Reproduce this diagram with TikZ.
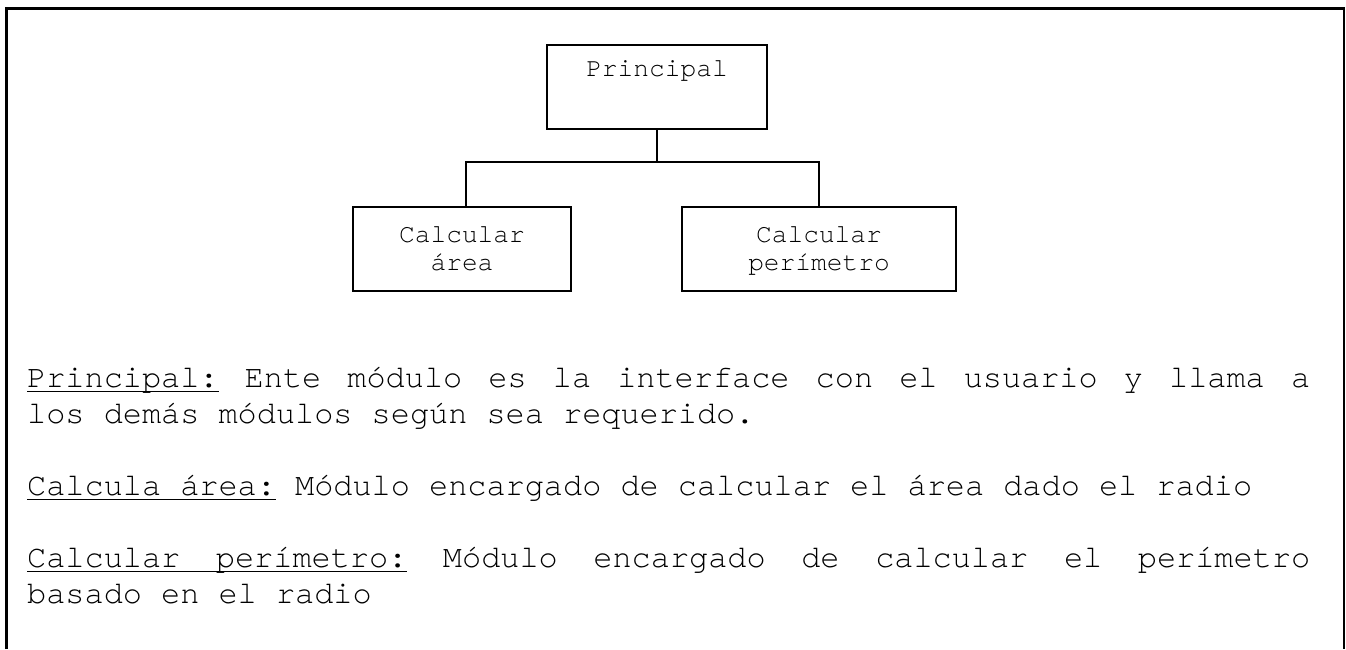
\documentclass[tikz,border=0pt]{standalone}
\usepackage{fontspec}
\usetikzlibrary{calc}
\newfontfamily\cour{texgyrecursor-regular.otf}
\newcommand\bodyfont{\cour\fontsize{31.9}{36}\selectfont\frenchspacing\fontdimen3\font=40pt\relax}
\newcommand\boxfont{\cour\fontsize{26.2}{28}\selectfont}
% underline helpers
\newcommand\ulword[1]{\setbox0\hbox{#1}\rlap{\rule[-5.4pt]{\wd0}{1.4pt}}\box0\relax}
\newcommand\ulspace{\leaders\hrule height -4pt depth 5.4pt\hskip\fontdimen2\font plus\fontdimen3\font\relax}
\tikzset{
  modbox/.style={draw=black, line width=1.4pt, rectangle, inner sep=0pt, minimum height=84pt},
  boxtxt/.style={font=\boxfont, inner sep=0pt, anchor=base},
  bodytxt/.style={font=\bodyfont, inner sep=0pt, anchor=base west},
  conn/.style={draw=black, line width=1.4pt},
  frameline/.style={draw=black}
}
\begin{document}
\begin{tikzpicture}[x=1pt,y=-1pt]
\useasboundingbox (0,0) rectangle (1346,649);
% outer frame (open at bottom)
\draw[frameline, line width=2.6pt] (6.3,649) -- (6.3,7.2);
\draw[frameline, line width=2.8pt] (5,8.4) -- (1345,8.4);
\draw[frameline, line width=1.6pt] (1343.8,7.2) -- (1343.8,649);
% module boxes
\node[modbox, minimum width=220pt] (P) at (657,87) {};
\node[modbox, minimum width=218pt] (A) at (462,249) {};
\node[modbox, minimum width=274pt] (B) at (819,249) {};
\node[boxtxt] (tP) at (657,76) {Principal};
\node[boxtxt] (tA1) at (462,242) {Calcular};
\node[boxtxt] (tA2) at (462,270) {área};
\node[boxtxt] (tB1) at (819,242) {Calcular};
\node[boxtxt] (tB2) at (819,270) {perímetro};
% connectors
\coordinate (bus) at (657,162);
\draw[conn] (P.south) -- (bus);
\draw[conn] ($(A.north)+(4,0)$) |- (bus);
\draw[conn] (B.north) |- (bus);
% descriptions
\node[bodytxt] (l1) at (27,387) {\makebox[1283pt][s]{\ulword{Principal:} Ente módulo es la interface con el usuario y llama a}};
\node[bodytxt] (l2) at (27,423) {los demás módulos según sea requerido.};
\node[bodytxt] (l3) at (27,495) {\ulword{Calcula área:} Módulo encargado de calcular el área dado el radio};
\node[bodytxt] (l4) at (27,567) {\makebox[1283pt][s]{\ulword{Calcular}\ulspace\ulword{perímetro:} Módulo encargado de calcular el perímetro}};
\node[bodytxt] (l5) at (27,603) {basado en el radio};
\end{tikzpicture}
\end{document}
